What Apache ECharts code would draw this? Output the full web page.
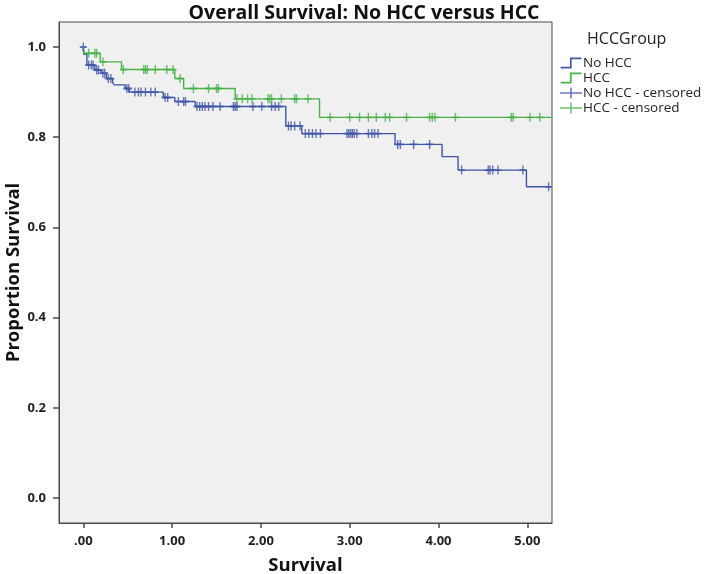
<!DOCTYPE html>
<html><head><meta charset="utf-8">
<script src="https://cdn.jsdelivr.net/npm/echarts@6/dist/echarts.min.js"></script>
<style>html,body{margin:0;padding:0;background:#fff}#c{width:708px;height:574px}</style>
</head><body><div id="c"></div>
<script>
// Kaplan-Meier step points: [time, survival after step]
const noHccSteps = [[0,1.0],[0.005,0.984],[0.04,0.960],[0.13,0.949],[0.20,0.942],[0.26,0.930],[0.33,0.921],[0.35,0.916],[0.47,0.908],[0.52,0.900],[0.90,0.888],[1.03,0.879],[1.26,0.868],[2.28,0.825],[2.46,0.808],[3.51,0.784],[4.04,0.757],[4.22,0.727],[4.99,0.690],[5.27,0.690]];
const hccSteps = [[0,1.0],[0.005,0.986],[0.19,0.967],[0.43,0.950],[1.03,0.930],[1.13,0.908],[1.71,0.885],[2.66,0.844],[5.27,0.844]];
// censoring times
const noHccCensored = [0, 0.06, 0.09, 0.11, 0.15, 0.17, 0.22, 0.24, 0.28, 0.31, 0.49, 0.51, 0.58, 0.62, 0.65, 0.70, 0.76, 0.81, 0.92, 0.95, 1.07, 1.13, 1.15, 1.28, 1.31, 1.34, 1.37, 1.41, 1.46, 1.54, 1.69, 1.71, 1.73, 1.91, 2.01, 2.12, 2.16, 2.20, 2.31, 2.34, 2.38, 2.44, 2.50, 2.54, 2.58, 2.62, 2.67, 2.97, 2.99, 3.01, 3.03, 3.05, 3.08, 3.21, 3.25, 3.28, 3.32, 3.54, 3.57, 3.72, 3.90, 4.26, 4.56, 4.58, 4.61, 4.67, 4.95, 5.24];
const hccCensored = [0.06, 0.13, 0.15, 0.22, 0.45, 0.68, 0.70, 0.72, 0.81, 0.94, 1.01, 1.09, 1.24, 1.41, 1.50, 1.52, 1.73, 1.79, 1.85, 1.90, 2.08, 2.10, 2.12, 2.23, 2.38, 2.40, 2.53, 2.78, 3.00, 3.11, 3.21, 3.30, 3.40, 3.45, 3.64, 3.90, 3.93, 3.96, 4.19, 4.82, 4.84, 5.03, 5.14];
const xTicks = [0, 1, 2, 3, 4, 5];
const yTicks = [0, 0.2, 0.4, 0.6, 0.8, 1.0];

const BLUE = '#3f55a9', GREEN = '#47b347';
function survAt(steps, t){ let s = steps[0][1]; for (const p of steps){ if (p[0] <= t) s = p[1]; } return s; }
const plus = 'path://M0,4 L10,4 L10,6 L0,6 Z M4,0 L6,0 L6,10 L4,10 Z';
const stepIcon = 'path://M0,9 L9,9 L9,0 L20,0 L20,1.6 L10.6,1.6 L10.6,10.6 L0,10.6 Z';
const plusIcon = 'path://M0,4.3 L20,4.3 L20,5.7 L0,5.7 Z M9.3,0 L10.7,0 L10.7,10 L9.3,10 Z';
const FONT = 'Open Sans';

const chart = echarts.init(document.getElementById('c'), null, {renderer:'canvas'});
chart.setOption({
  backgroundColor:'#ffffff',
  animation:false,
  textStyle:{fontFamily:FONT},
  title:[
    {text:'Overall Survival: No HCC versus HCC', left:359, textAlign:'center', top:-2,
     textStyle:{fontFamily:FONT, fontSize:19.5, fontWeight:'bold', color:'#111'}},
    {text:'HCCGroup', left:582, top:26, textStyle:{fontFamily:FONT, fontSize:16, fontWeight:'normal', color:'#222'}}
  ],
  legend:{
    orient:'vertical', left:555, top:51, itemGap:1, itemWidth:22, itemHeight:11,
    textStyle:{fontFamily:FONT, fontSize:13.5, color:'#222', padding:[0,0,0,-4]},
    data:[
      {name:'No HCC', icon:stepIcon},
      {name:'HCC', icon:stepIcon},
      {name:'No HCC - censored', icon:plusIcon},
      {name:'HCC - censored', icon:plusIcon}
    ]
  },
  grid:{left:59, top:22, right:156, bottom:51, containLabel:false, outerBoundsMode:'none',
        show:true, backgroundColor:'#f0f0f0', borderColor:'#4a4a4a', borderWidth:1},
  xAxis:{
    type:'value', min:-0.274, max:5.278,
    name:'Survival', nameLocation:'middle', nameGap:33, nameMoveOverlap:false,
    nameTextStyle:{fontFamily:FONT, fontSize:18.5, fontWeight:'bold', color:'#111'},
    axisLine:{show:true, onZero:false, lineStyle:{color:'#4a4a4a'}},
    axisTick:{show:true, length:5, customValues:xTicks, lineStyle:{color:'#4a4a4a', width:1.5}},
    axisLabel:{customValues:xTicks, margin:12, fontFamily:FONT, fontSize:13, fontWeight:'bold', color:'#222',
      formatter:v => v === 0 ? '.00' : v.toFixed(2)},
    splitLine:{show:false}
  },
  yAxis:{
    type:'value', min:-0.0554, max:1.0554,
    name:'Proportion Survival', nameLocation:'middle', nameGap:36, nameMoveOverlap:false,
    nameTextStyle:{fontFamily:FONT, fontSize:18.5, fontWeight:'bold', color:'#111'},
    axisLine:{show:true, onZero:false, lineStyle:{color:'#4a4a4a'}},
    axisTick:{show:true, length:6, customValues:yTicks, lineStyle:{color:'#4a4a4a', width:1.5}},
    axisLabel:{customValues:yTicks, margin:13, fontFamily:FONT, fontSize:13, fontWeight:'bold', color:'#222',
      formatter:v => v.toFixed(1)},
    splitLine:{show:false}
  },
  series:[
    {name:'No HCC', type:'line', step:'end', data:noHccSteps, showSymbol:false, color:BLUE,
     lineStyle:{color:BLUE, width:1.4}, z:2},
    {name:'HCC', type:'line', step:'end', data:hccSteps, showSymbol:false, color:GREEN,
     lineStyle:{color:GREEN, width:1.4}, z:2},
    {name:'No HCC - censored', type:'scatter', symbol:plus, symbolSize:[7,9], color:BLUE,
     itemStyle:{color:BLUE}, data:noHccCensored.map(t => [t, survAt(noHccSteps, t)]), z:3},
    {name:'HCC - censored', type:'scatter', symbol:plus, symbolSize:[7,9], color:GREEN,
     itemStyle:{color:GREEN}, data:hccCensored.map(t => [t, survAt(hccSteps, t)]), z:3}
  ]
});
</script></body></html>
